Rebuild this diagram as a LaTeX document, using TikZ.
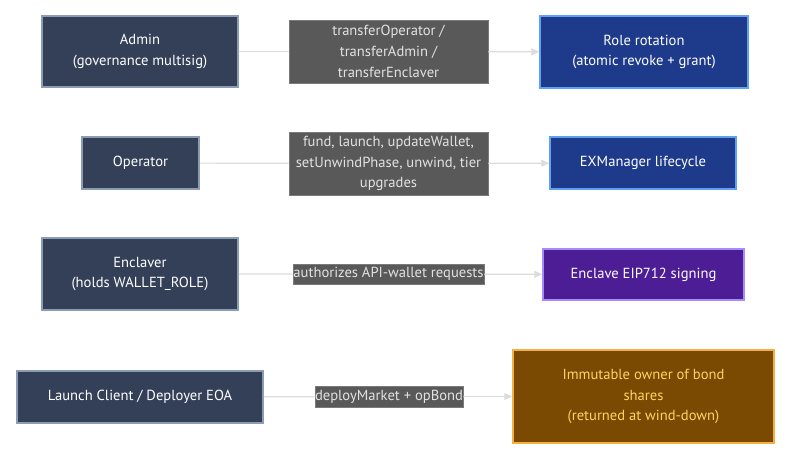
\documentclass[tikz,border=0pt]{standalone}
\usepackage{fontspec}
\setmainfont{PT Sans}
\usepackage{xcolor}
\usetikzlibrary{arrows.meta,positioning}

\definecolor{actorfill}{HTML}{334058}
\definecolor{actorline}{HTML}{8C9CB2}
\definecolor{labelfill}{HTML}{595959}
\definecolor{labelline}{HTML}{7A7A7A}
\definecolor{labeltext}{HTML}{E2E2E2}
\definecolor{bluefill}{HTML}{1E3A8A}
\definecolor{blueline}{HTML}{60A0F0}
\definecolor{purplefill}{HTML}{4C1D95}
\definecolor{purpleline}{HTML}{A78BFA}
\definecolor{brownfill}{HTML}{7A4A02}
\definecolor{brownline}{HTML}{F5B040}
\definecolor{browntext}{HTML}{FCD560}
\definecolor{linkgray}{HTML}{DCDCDC}

\tikzset{
    actor/.style={draw=actorline, line width=1.5pt, fill=actorfill, text=white,
        align=center, inner sep=0pt},
    target/.style={line width=1.5pt, text=white, align=center, inner sep=0pt},
    edgelabel/.style={draw=labelline, line width=0.6pt, fill=labelfill, text=labeltext,
        align=center, inner sep=0pt},
    link/.style={draw=linkgray, line width=1.2pt, -{Triangle[length=8pt,width=7pt]}}
}

\begin{document}
\begin{tikzpicture}[x=1pt, y=-1pt, font=\fontsize{14.6}{20.7}\selectfont]
        \useasboundingbox (0,0) rectangle (793,465);
        % left column
        \node[actor, minimum width=196pt, minimum height=71pt] (admin) at (140,51.5)
            {Admin\\(governance multisig)};
        \node[actor, minimum width=117pt, minimum height=52pt] (operator) at (140.5,163)
            {Operator};
        \node[actor, minimum width=196pt, minimum height=72pt] (enclaver) at (140,274)
            {Enclaver\\(holds WALLET\_ROLE)};
        \node[actor, minimum width=246pt, minimum height=52pt] (client) at (140,397)
            {Launch Client / Deployer EOA};
        % right column
        \node[target, draw=blueline, fill=bluefill, minimum width=208pt, minimum height=72pt]
            (rotation) at (644,52) {Role rotation\\(atomic revoke + grant)};
        \node[target, draw=blueline, fill=bluefill, minimum width=186pt, minimum height=52pt]
            (lifecycle) at (643,163) {EXManager lifecycle};
        \node[target, draw=purpleline, fill=purplefill, minimum width=201pt, minimum height=51pt]
            (signing) at (643.5,274.5) {Enclave EIP712 signing};
        \node[target, draw=brownline, fill=brownfill, text=browntext, minimum width=261pt,
            minimum height=93pt] (owner) at (643.5,396.5)
            {Immutable owner of bond\\shares\\(returned at wind-down)};
        % labels on the links
        \node[edgelabel, minimum width=199pt, minimum height=63pt] (lblrot) at (388.5,51.5)
            {transferOperator /\\transferAdmin /\\transferEnclaver};
        \node[edgelabel, minimum width=199pt, minimum height=63pt] (lbllife) at (388.5,163.5)
            {fund, launch, updateWallet,\\setUnwindPhase, unwind, tier\\upgrades};
        \node[edgelabel, minimum width=191pt, minimum height=20pt] (lblsign) at (388.5,274)
            {authorizes API-wallet requests};
        \node[edgelabel, minimum width=148pt, minimum height=21pt] (lblown) at (389,396.5)
            {deployMarket + opBond};
        % links
        \draw[link] (admin) -- (lblrot) -- (rotation);
        \draw[link] (operator) -- (lbllife) -- (lifecycle);
        \draw[link] (enclaver) -- (lblsign) -- (signing);
        \draw[link] (client) -- (lblown) -- (owner);
\end{tikzpicture}
\end{document}
